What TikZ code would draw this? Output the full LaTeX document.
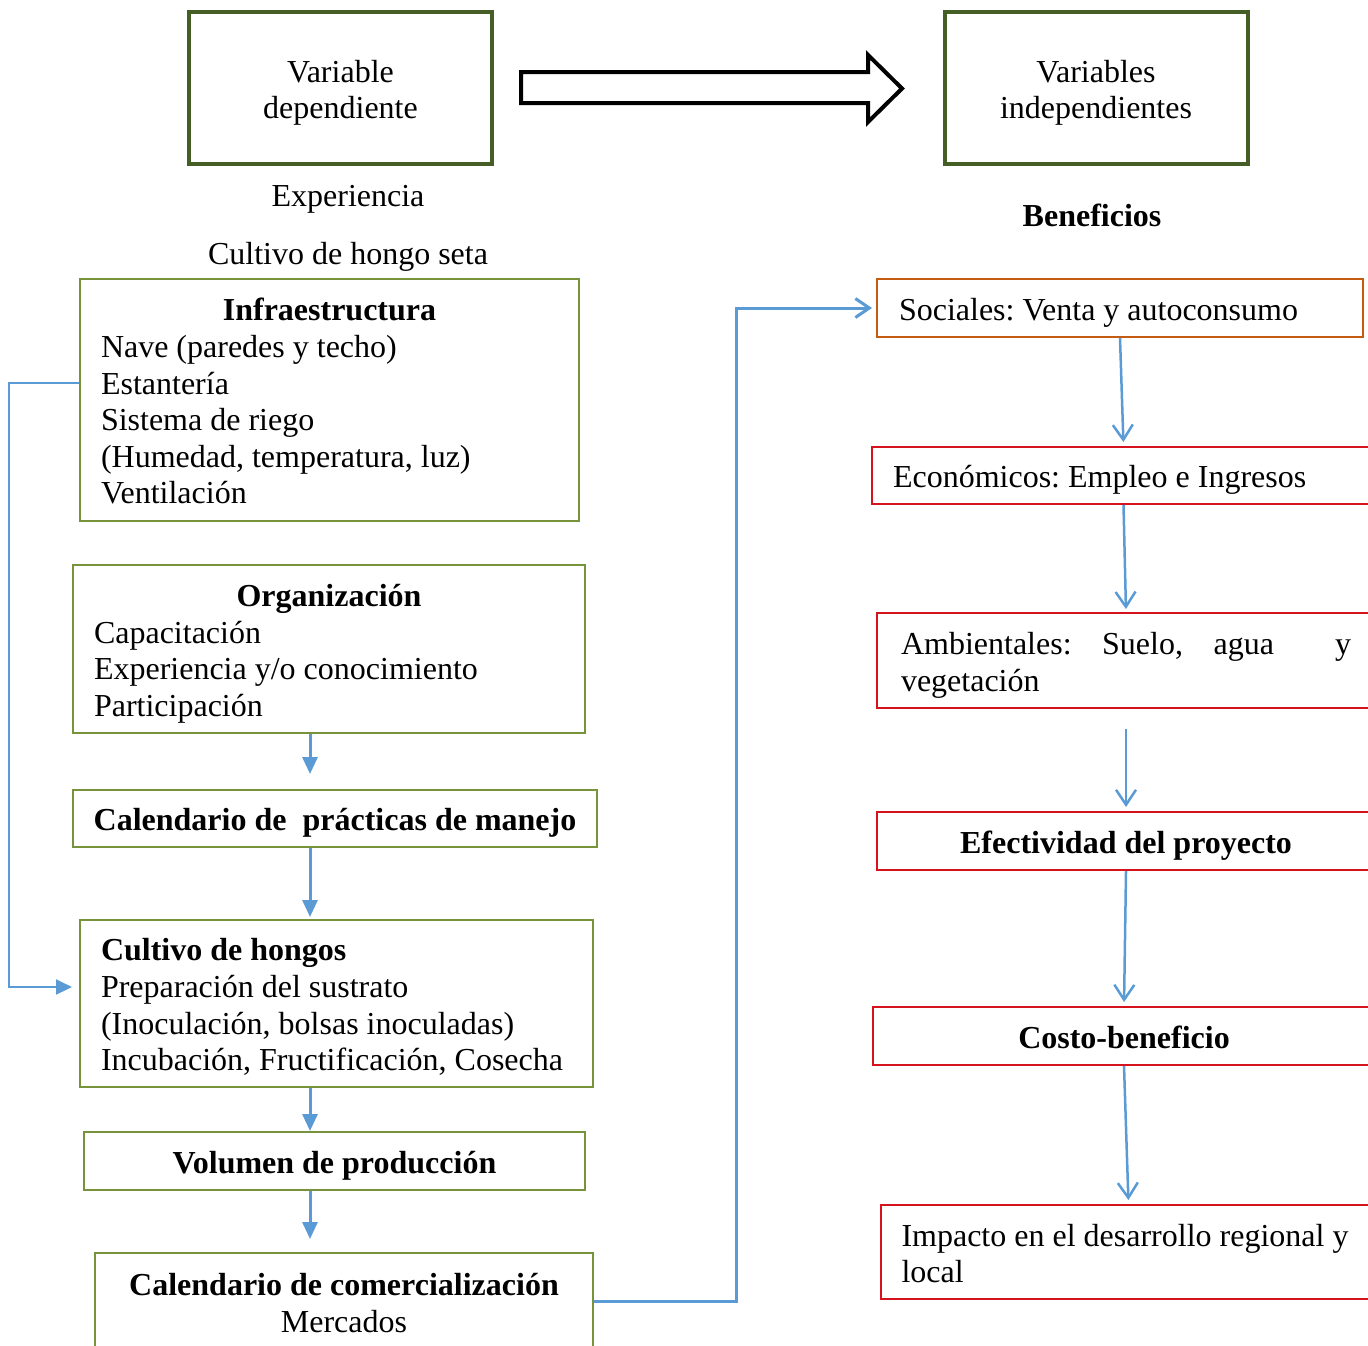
\documentclass[tikz,border=0pt]{standalone}
\usepackage{fontspec}
\setmainfont{Liberation Serif}
\usetikzlibrary{arrows.meta}
\definecolor{oscuro}{RGB}{68,94,38}
\definecolor{verde}{RGB}{119,147,60}
\definecolor{azul}{RGB}{91,155,213}
\definecolor{naranja}{RGB}{197,90,17}
\definecolor{rojo}{RGB}{214,18,28}
\newcommand\alto{\rule{0pt}{17.8pt}}
\frenchspacing
\begin{document}
\begin{tikzpicture}[x=0.5pt,y=-0.5pt,
    font=\fontsize{16}{18.3}\selectfont,
    every node/.append style={execute at begin node=\alto, execute at end node=\strut},
    cabeza/.style={draw=oscuro, line width=2pt, minimum width=151.5pt, minimum height=76pt, text width=140pt, align=flush center},
    caja/.style={draw=verde, line width=1pt, inner ysep=0pt},
    cajar/.style={draw=rojo, line width=1pt, inner ysep=0pt},
    flecha/.style={azul, line width=1.5pt, -{Triangle[length=8.5pt,width=7.5pt]}},
    retro/.style={azul, line width=1pt, -{Triangle[length=8pt,width=7.5pt]}},
    enlace/.style={azul, line width=1.5pt, -{Straight Barb[length=7pt,width=9.5pt]}},
    punta/.style={azul, line width=1.25pt, -{Straight Barb[length=7.5pt,width=10pt]}}]
\useasboundingbox (0,0) rectangle (1368,1345);
\clip (0,0) rectangle (1368,1345);

\node[cabeza] (dep) at (340.5,88) {Variable\\dependiente};
\node[cabeza] (indep) at (1096,88) {Variables\\independientes};
\draw[line width=2pt] (521,72) -- (868,72) -- (868,55) -- (902,88.5) -- (868,122) -- (868,103) -- (521,103) -- cycle;

\node (exp) at (348,194) {Experiencia};
\node (seta) at (348,252) {Cultivo de hongo seta};
\node[font=\fontsize{16}{18.3}\selectfont\bfseries] (benef) at (1092,214) {Beneficios};

\node[caja, minimum width=249.5pt, minimum height=121pt, text width=228.5pt, inner xsep=10.5pt, align=flush left] (infra) at (329.5,400)
    {\makebox[\hsize]{\bfseries Infraestructura}\\Nave (paredes y techo)\\Estantería\\Sistema de riego\\(Humedad, temperatura, luz)\\Ventilación};
\node[caja, minimum width=256pt, minimum height=84pt, text width=235pt, inner xsep=10.5pt, align=flush left] (org) at (329,649)
    {\makebox[\hsize]{\bfseries Organización}\\Capacitación\\Experiencia y/o conocimiento\\Participación};
\node[caja, minimum width=262pt, minimum height=28.5pt, font=\fontsize{16}{18.3}\selectfont\bfseries] (calman) at (335,818.5)
    {Calendario de\ \ prácticas de manejo};
\node[caja, minimum width=256.5pt, minimum height=83.5pt, text width=235.5pt, inner xsep=10.5pt, align=flush left] (cult) at (336.5,1003.5)
    {\textbf{Cultivo de hongos}\\Preparación del sustrato\\(Inoculación, bolsas inoculadas)\\Incubación, Fructificación, Cosecha};
\node[caja, minimum width=250.5pt, minimum height=29pt, font=\fontsize{16}{18.3}\selectfont\bfseries] (vol) at (334.5,1161)
    {Volumen de producción};
\node[caja, minimum width=249pt, minimum height=48.5pt, text width=230pt, align=flush center] (com) at (344,1301.5)
    {\textbf{Calendario de comercialización}\\Mercados};

\node[draw=naranja, line width=1pt, inner ysep=0pt, minimum width=243pt, minimum height=29pt, text width=221pt, inner xsep=11pt, align=flush left] (soc) at (1120,308)
    {Sociales: Venta y autoconsumo};
\node[cajar, minimum width=251.5pt, minimum height=28.5pt, text width=230.5pt, inner xsep=10.5pt, align=flush left] (eco) at (1123.5,475.5)
    {Económicos: Empleo e Ingresos};
\node[cajar, minimum width=249pt, minimum height=47.5pt, text width=225pt, inner xsep=11pt, align=flush left] (amb) at (1126,660.5)
    {\makebox[\hsize]{Ambientales:\hfill Suelo,\hfill agua\hfill\hfill y}\\vegetación};
\node[cajar, minimum width=249pt, minimum height=29pt, font=\fontsize{16}{18.3}\selectfont\bfseries] (efe) at (1126,841)
    {Efectividad del proyecto};
\node[cajar, minimum width=251pt, minimum height=29pt, font=\fontsize{16}{18.3}\selectfont\bfseries] (cos) at (1124,1036)
    {Costo-beneficio};
\node[cajar, minimum width=246.5pt, minimum height=47pt, text width=227pt, inner xsep=10.5pt, align=flush left] (imp) at (1128.5,1252)
    {Impacto en el desarrollo regional y\\local};

\coordinate (eje) at (310,0);
\draw[flecha, shorten >=7.5pt] (org.south -| eje) -- (calman.north -| eje);
\draw[flecha, shorten >=1pt] (calman.south -| eje) -- (cult.north -| eje);
\draw[flecha] (cult.south -| eje) -- (vol.north -| eje);
\draw[flecha, shorten >=6.5pt] (vol.south -| eje) -- (com.north -| eje);
\draw[retro, shorten >=3.5pt] ([yshift=8.5pt]infra.west) -- ++(-35pt,0) |- ([yshift=8.25pt]cult.west);
\draw[enlace, shorten >=2pt] (com.east) -- ++(71pt,0) |- (soc.west);

\draw[punta, shorten >=2pt] (soc.south) -- (eco.north);
\draw[punta, shorten >=1.5pt] (eco.south) -- (amb.north);
\draw[punta, shorten <=10pt, shorten >=2pt] (amb.south) -- (efe.north);
\draw[punta, shorten >=2pt] (efe.south) -- (cos.north);
\draw[punta, shorten >=2pt] (cos.south) -- (imp.north);
\end{tikzpicture}
\end{document}
